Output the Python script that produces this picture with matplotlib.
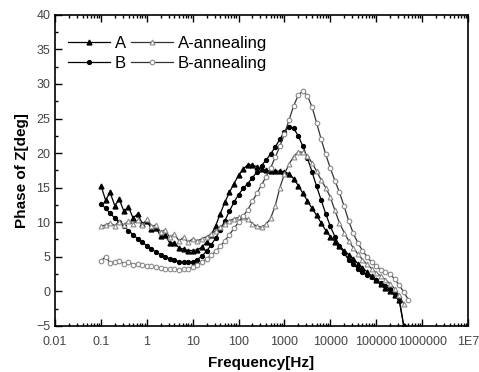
import numpy as np
import matplotlib
matplotlib.use("Agg")
import matplotlib.pyplot as plt
from matplotlib.ticker import FixedLocator, MultipleLocator, NullFormatter, LogLocator

plt.rcParams['font.family'] = ['Liberation Sans', 'DejaVu Sans']

freq = [0.1, 0.126, 0.158, 0.2, 0.251, 0.316, 0.398, 0.501, 0.631, 0.794,
        1, 1.26, 1.58, 2, 2.51, 3.16, 3.98, 5.01, 6.31, 7.94,
        10, 12.6, 15.8, 20, 25.1, 31.6, 39.8, 50.1, 63.1, 79.4,
        100, 126, 158, 200, 251, 316, 398, 501, 631, 794,
        1000, 1260, 1580, 2000, 2510, 3160, 3980, 5010, 6310, 7940,
        1e4, 12600, 15800, 20000, 25100, 31600, 39800, 50100, 63100, 79400,
        1e5, 126000, 158000, 200000, 251000, 316000, 398000, 501000]

phase_a = [15.3, 13.2, 14.3, 12.4, 13.3, 11.6, 12.2, 10.6, 11.2, 9.8,
           10.2, 9.0, 9.2, 8.0, 8.1, 7.0, 7.0, 6.3, 6.1, 5.9,
           5.9, 6.0, 6.4, 7.1, 8.1, 9.5, 11.2, 12.9, 14.3, 15.6,
           16.8, 17.7, 18.3, 18.3, 18.0, 17.7, 17.5, 17.4, 17.4, 17.4,
           17.3, 17.0, 16.3, 15.3, 14.2, 13.1, 12.0, 11.0, 9.9, 8.8,
           7.9, 7.2, 6.5, 5.9, 5.3, 4.7, 4.0, 3.4, 2.8, 2.2,
           1.6, 1.0, 0.5, 0.0, -0.6, -1.3, -5.0]

phase_b = [12.7, 12.0, 11.3, 10.6, 10.0, 9.4, 8.8, 8.2, 7.6, 7.1,
           6.6, 6.1, 5.7, 5.3, 5.0, 4.7, 4.5, 4.3, 4.2, 4.2,
           4.3, 4.6, 5.1, 5.8, 6.7, 7.7, 8.9, 10.2, 11.6, 12.9,
           14.0, 14.9, 15.6, 16.4, 17.3, 18.2, 19.0, 19.9, 20.9, 22.0,
           23.1, 23.8, 23.6, 22.5, 21.0, 19.3, 17.3, 15.2, 13.2, 11.2,
           9.4, 7.9, 6.6, 5.5, 4.6, 3.9, 3.3, 2.8, 2.4, 2.0,
           1.6, 1.2, 0.8, 0.3, -0.3, -1.0, -5.0]

phase_a_ann = [9.4, 9.6, 9.9, 9.5, 10.1, 9.6, 10.2, 9.7, 10.3, 9.6,
               10.4, 9.4, 9.6, 8.6, 8.9, 7.8, 8.3, 7.3, 7.8, 7.1,
               7.6, 7.3, 7.6, 7.9, 8.3, 8.8, 9.3, 9.8, 10.2, 10.5,
               10.7, 10.7, 10.4, 9.8, 9.4, 9.3, 9.7, 10.6, 12.4, 15.0,
               17.0, 18.4, 19.5, 20.2, 20.1, 19.6, 18.6, 17.4, 16.1, 15.0,
               13.6, 11.7, 9.9, 8.5, 7.3, 6.3, 5.4, 4.6, 3.9, 3.3,
               2.7, 2.2, 1.7, 1.1, 0.4, -0.6, -1.8]

phase_b_ann = [4.4, 5.0, 4.1, 4.3, 4.4, 4.0, 4.3, 3.8, 4.0, 3.8,
               3.7, 3.6, 3.5, 3.4, 3.3, 3.2, 3.2, 3.1, 3.2, 3.3,
               3.5, 3.8, 4.2, 4.7, 5.2, 5.8, 6.5, 7.3, 8.2, 9.1,
               10.0, 10.9, 11.8, 13.0, 14.2, 15.4, 16.6, 17.9, 19.4, 21.0,
               22.8, 24.8, 26.8, 28.4, 29.0, 28.3, 26.7, 24.4, 22.0, 19.8,
               17.8, 16.0, 14.3, 12.3, 10.2, 8.4, 7.0, 5.9, 5.0, 4.2,
               3.6, 3.1, 2.8, 2.5, 1.8, 0.9, -0.1, -1.2]

xticks = [0.01, 0.1, 1, 10, 100, 1000, 1e4, 1e5, 1e6, 1e7]
xticklabels = ['0.01', '0.1', '1', '10', '100', '1000', '10000',
               '100000', '1000000', '1E7']

fig = plt.figure(figsize=(4.79, 3.72), dpi=100)
ax = fig.add_axes([0.115, 0.124, 0.862, 0.836])

gray = '#8a8a8a'
ax.plot(freq[:len(phase_a)], phase_a, '-^', color='black', lw=0.9, ms=3.5, label='A')
ax.plot(freq[:len(phase_b)], phase_b, '-o', color='black', lw=0.9, ms=2.8, label='B')
ax.plot(freq[:len(phase_a_ann)], phase_a_ann, '-^', color='#333333', lw=0.9, ms=3.5,
        mfc='white', mec=gray, mew=0.8, label='A-annealing')
ax.plot(freq[:len(phase_b_ann)], phase_b_ann, '-o', color='#333333', lw=0.9, ms=3.3,
        mfc='white', mec=gray, mew=0.8, label='B-annealing')

ax.set_xscale('log')
ax.set_xlim(0.01, 1e7)
ax.set_ylim(-5, 40)
ax.xaxis.set_major_locator(FixedLocator(xticks))
ax.set_xticklabels(xticklabels)
ax.xaxis.set_minor_locator(LogLocator(base=10, subs=np.arange(2, 10), numticks=20))
ax.xaxis.set_minor_formatter(NullFormatter())
ax.yaxis.set_major_locator(MultipleLocator(5))
ax.yaxis.set_minor_locator(MultipleLocator(2.5))

ax.tick_params(which='both', direction='in', top=True, right=False,
               labelsize=9, labelcolor='#444444', width=1)
ax.tick_params(which='major', length=5)
ax.tick_params(which='minor', length=2.5)
ax.tick_params(axis='x', which='major', pad=7)
for s in ax.spines.values():
    s.set_linewidth(1.2)

ax.set_xlabel('Frequency[Hz]', fontsize=11, fontweight='bold', labelpad=6)
ax.set_ylabel('Phase of Z[deg]', fontsize=11, fontweight='bold', labelpad=5)

ax.legend(loc='upper left', ncol=2, frameon=False, fontsize=12,
          handlelength=2.5, handletextpad=0.3, columnspacing=0.3,
          labelspacing=0.3, borderaxespad=0.4, bbox_to_anchor=(0.0, 0.975))

fig.savefig('out.png', dpi=100)
